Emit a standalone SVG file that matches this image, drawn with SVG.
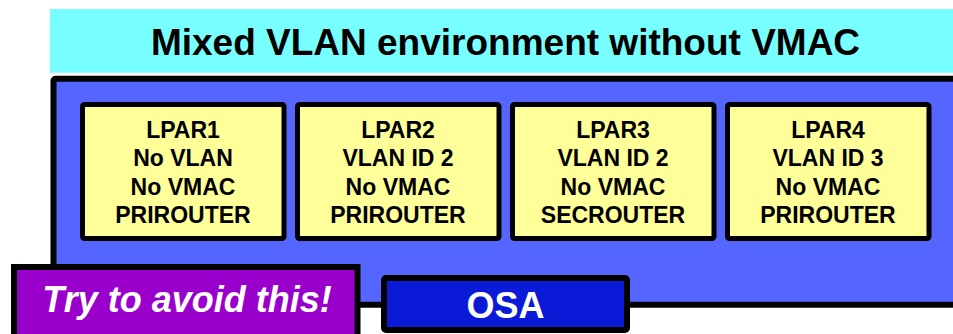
<svg xmlns="http://www.w3.org/2000/svg" width="953" height="334" viewBox="0 0 953 334">
<style>
.lpar rect{fill:#FFFF99;stroke:#000;stroke-width:5}
.lpar text{font-family:"Liberation Sans",Arial,sans-serif;font-weight:bold;font-size:23px;fill:#000;text-anchor:middle}
.big{font-family:"Liberation Sans",Arial,sans-serif;font-weight:bold;font-size:36px;text-anchor:middle}
</style>
<rect width="953" height="334" fill="#fff"/>
<g id="title">
<rect x="50" y="9" width="903" height="63.7" fill="#77FFFF"/>
<text x="505.5" y="55" class="big" style="font-size:37px" fill="#000">Mixed VLAN environment without VMAC</text>
</g>
<g id="host">
<rect x="53.5" y="78.7" width="920" height="226" rx="2" fill="#5566FF" stroke="#000" stroke-width="6"/>
</g>
<g id="lpar1" class="lpar">
<rect x="82.5" y="104.5" width="201.5" height="134" rx="2"/>
<text x="183" y="137.5">LPAR1</text>
<text x="183" y="166">No VLAN</text>
<text x="183" y="194.5">No VMAC</text>
<text x="183" y="223">PRIROUTER</text>
</g>
<g id="lpar2" class="lpar">
<rect x="297.5" y="104.5" width="201.5" height="134" rx="2"/>
<text x="398" y="137.5">LPAR2</text>
<text x="398" y="166">VLAN ID 2</text>
<text x="398" y="194.5">No VMAC</text>
<text x="398" y="223">PRIROUTER</text>
</g>
<g id="lpar3" class="lpar">
<rect x="512.5" y="104.5" width="201.5" height="134" rx="2"/>
<text x="613" y="137.5">LPAR3</text>
<text x="613" y="166">VLAN ID 2</text>
<text x="613" y="194.5">No VMAC</text>
<text x="613" y="223">SECROUTER</text>
</g>
<g id="lpar4" class="lpar">
<rect x="727.5" y="104.5" width="201.5" height="134" rx="2"/>
<text x="828" y="137.5">LPAR4</text>
<text x="828" y="166">VLAN ID 3</text>
<text x="828" y="194.5">No VMAC</text>
<text x="828" y="223">PRIROUTER</text>
</g>
<g id="osa">
<rect x="384" y="278" width="243" height="52" rx="2" fill="#0A1AD6" stroke="#000" stroke-width="6"/>
<text x="505.5" y="318" class="big" fill="#fff">OSA</text>
</g>
<g id="warning">
<rect x="14" y="267" width="343.5" height="80" fill="#9900CC" stroke="#000" stroke-width="6"/>
<text x="187" y="312" class="big" font-style="italic" fill="#fff">Try to avoid this!</text>
</g>
<g id="connectors"/>
</svg>
